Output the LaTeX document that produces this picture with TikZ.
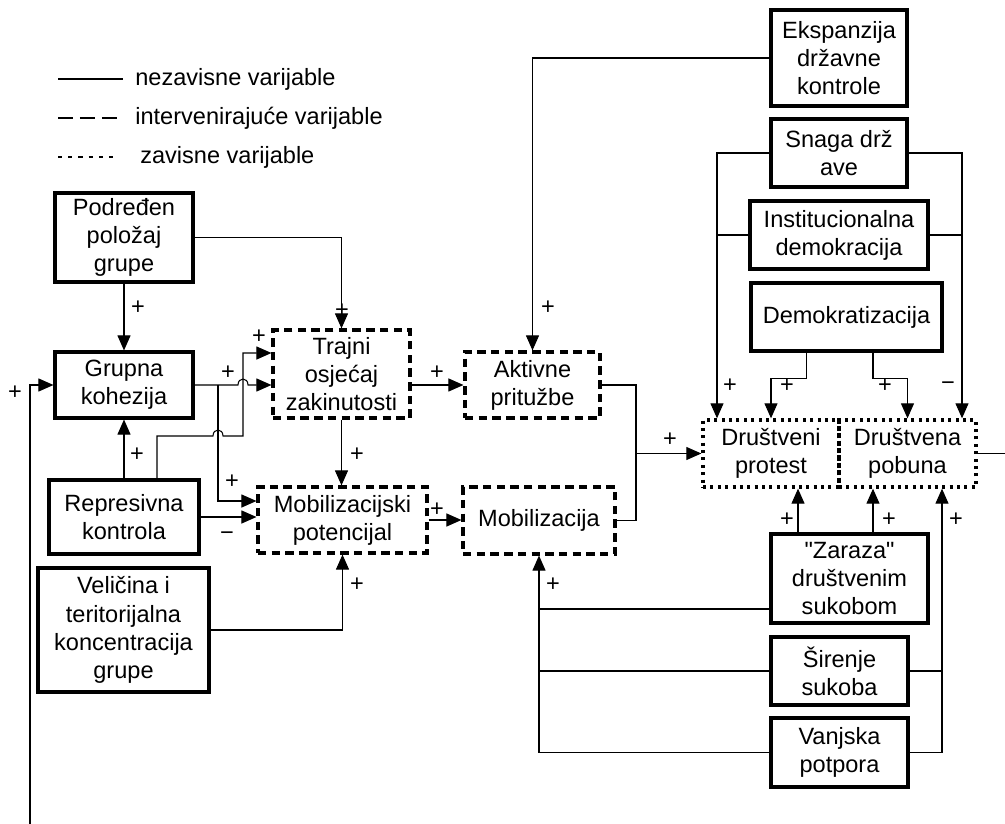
\documentclass[tikz,border=0pt]{standalone}
\usepackage{fontspec}
\setmainfont{Liberation Sans}[Ligatures=TeXOff]
\usetikzlibrary{arrows.meta}

\begin{document}
\begin{tikzpicture}[x=0.02cm, y=-0.02cm,
  every node/.style={font=\fontsize{13.4}{16}\selectfont},
  box/.style={draw, line width=1.8pt, align=center, inner sep=0pt},
  ibox/.style={box, dash pattern=on 4.8pt off 3pt},
  dbox/.style={box, line width=1.9pt, dash pattern=on 1.7pt off 2.5pt},
  link/.style={line width=0.6pt},
  arr/.style={link, -{Triangle[length=0.3cm, width=0.26cm]}},
  sign/.style={inner sep=0pt}]
  \useasboundingbox (0,0) rectangle (1005,824);

  % Legend
  \draw[line width=1.4pt] (58,79) -- (123,79);
  \draw[line width=1.6pt, dash pattern=on 8.5pt off 4pt] (58,118) -- (117,118);
  \draw[line width=1.3pt, dash pattern=on 2.4pt off 3.4pt] (58,157) -- (116,157);
  \node[anchor=west, inner sep=0pt] (leg1) at (135,79) {nezavisne varijable};
  \node[anchor=west, inner sep=0pt] (leg2) at (135,118) {intervenirajuće varijable};
  \node[anchor=west, inner sep=0pt] (leg3) at (140,157) {zavisne varijable};

  % Independent variables (left)
  \node[box, minimum width=2.76cm, minimum height=1.78cm] (pod) at (124,237.5) {Podređen\\položaj\\grupe};
  \node[box, minimum width=2.76cm, minimum height=1.32cm] (grp) at (124,385) {Grupna\\kohezija};
  \node[box, minimum width=3.0cm, minimum height=1.48cm] (rep) at (124,517) {Represivna\\kontrola};
  \node[box, minimum width=3.42cm, minimum height=2.48cm] (vel) at (123.5,630) {Veličina i\\teritorijalna\\koncentracija\\grupe};

  % Intervening variables
  \node[ibox, minimum width=2.74cm, minimum height=1.76cm] (traj) at (341.5,374) {Trajni\\osjećaj\\zakinutosti};
  \node[ibox, minimum width=2.70cm, minimum height=1.32cm] (akt) at (532.5,385) {Aktivne\\pritužbe};
  \node[ibox, minimum width=3.38cm, minimum height=1.32cm] (mpot) at (342.5,520) {Mobilizacijski\\potencijal};
  \node[ibox, minimum width=3.04cm, minimum height=1.34cm] (mob) at (539,520.5) {Mobilizacija};

  % Independent variables (right)
  \node[box, minimum width=2.72cm, minimum height=1.92cm] (eks) at (839,58) {Ekspanzija\\državne\\kontrole};
  \node[box, minimum width=2.72cm, minimum height=1.36cm] (sna) at (839,153) {Snaga drž\\ave};
  \node[box, minimum width=3.56cm, minimum height=1.36cm] (ins) at (839,235) {Institucionalna\\demokracija};
  \node[box, minimum width=3.82cm, minimum height=1.36cm] (dem) at (846.5,317) {Demokratizacija};
  \node[box, minimum width=3.14cm, minimum height=1.78cm] (zar) at (849.5,578.5) {"Zaraza"\\društvenim\\sukobom};
  \node[box, minimum width=2.74cm, minimum height=1.36cm] (sir) at (839.5,671) {Širenje\\sukoba};
  \node[box, minimum width=2.74cm, minimum height=1.38cm] (van) at (839.5,752.5) {Vanjska\\potpora};

  % Dependent variables
  \node[dbox, minimum width=2.72cm, minimum height=1.34cm] (pro) at (771,453.5) {Društveni\\protest};
  \node[dbox, minimum width=2.74cm, minimum height=1.34cm] (pob) at (907.5,453.5) {Društvena\\pobuna};

  % Bus lines
  \coordinate (busG) at (218,0);
  \coordinate (busT) at (243,0);
  \coordinate (busM) at (539,0);
  \coordinate (busA) at (636,0);
  \coordinate (busL) at (717,0);
  \coordinate (busS) at (942,0);
  \coordinate (busR) at (962,0);
  \coordinate (fb) at (30,824);
  \coordinate (out) at (1005,453.5);

  % Connectors on the left
  \draw[arr] (pod.south) -- (grp.north);
  \draw[arr] (pod.east) -| (traj.north);
  \draw[arr] (grp.east) -- (238,385) .. controls (238,377) and (248,377) .. (248,385) -- (traj.west |- grp.east);
  \draw[arr] (busG |- grp.east) |- ([yshift=0.38cm]mpot.west);
  \draw[arr] (rep.north) -- (grp.south);
  \draw[arr] ([xshift=0.66cm]rep.north) -- (157,436) -- (213,436) .. controls (213,428) and (223,428) .. (223,436) -- (243,436) |- ([yshift=0.42cm]traj.west);
  \draw[arr] (rep.east) -- (mpot.west |- rep.east);
  \draw[arr] (vel.east) -| (mpot.south);
  \draw[arr] (traj.south) -- (traj.south |- mpot.north);
  \draw[arr] (traj.east |- akt.west) -- (akt.west);
  \draw[arr] (mpot.east) -- (mob.west |- mpot.east);
  \draw[arr] (fb) |- (grp.west);

  % Connectors on the right
  \draw[arr] (eks.west) -| (akt.north);
  \draw[link] (akt.east) -| (busA |- mob.east) -- (mob.east);
  \draw[arr] (busA |- pro.west) -- (pro.west);
  \draw[arr] (sna.west) -| (busL |- pro.north);
  \draw[arr] (sna.east) -| (busR |- pob.north);
  \draw[link] (ins.west) -- (ins.west -| busL);
  \draw[link] (ins.east) -- (ins.east -| busR);
  \draw[arr] ([xshift=-0.8cm]dem.south) -- ++(0,26) -| (pro.north);
  \draw[arr] ([xshift=0.53cm]dem.south) -- ++(0,26) -| (pob.north);
  \draw[link] (pob.east) -- (out);
  \draw[arr] ([xshift=-1.03cm]zar.north) coordinate (z1) -- (z1 |- pro.south);
  \draw[arr] ([xshift=0.47cm]zar.north) coordinate (z2) -- (z2 |- pob.south);
  \draw[link] (sir.east) -- (sir.east -| busS);
  \draw[arr] (van.east) -| (busS |- pob.south);
  \draw[link] ([yshift=-0.61cm]zar.west) coordinate (z3) -- (z3 -| busM);
  \draw[link] (sir.west) -- (sir.west -| busM);
  \draw[arr] (van.west) -| (mob.south);

  % Signs
  \node[sign] (s1) at (138,308) {+};
  \node[sign] (s2) at (342,311) {+};
  \node[sign] (s3) at (228,373) {+};
  \node[sign] (s4) at (259,337) {+};
  \node[sign] (s5) at (232,482) {+};
  \node[sign] (s6) at (137,455) {+};
  \node[sign] (s7) at (227,536) {−};
  \node[sign] (s8) at (15,393) {+};
  \node[sign] (s9) at (357,455) {+};
  \node[sign] (s10) at (357,585) {+};
  \node[sign] (s11) at (437,373) {+};
  \node[sign] (s12) at (437,510) {+};
  \node[sign] (s13) at (548,308) {+};
  \node[sign] (s14) at (670,440) {+};
  \node[sign] (s15) at (553,585) {+};
  \node[sign] (s16) at (730,386) {+};
  \node[sign] (s17) at (787,386) {+};
  \node[sign] (s18) at (885,386) {+};
  \node[sign] (s19) at (948,386) {−};
  \node[sign] (s20) at (787,520) {+};
  \node[sign] (s21) at (889,520) {+};
  \node[sign] (s22) at (956,520) {+};
\end{tikzpicture}
\end{document}
